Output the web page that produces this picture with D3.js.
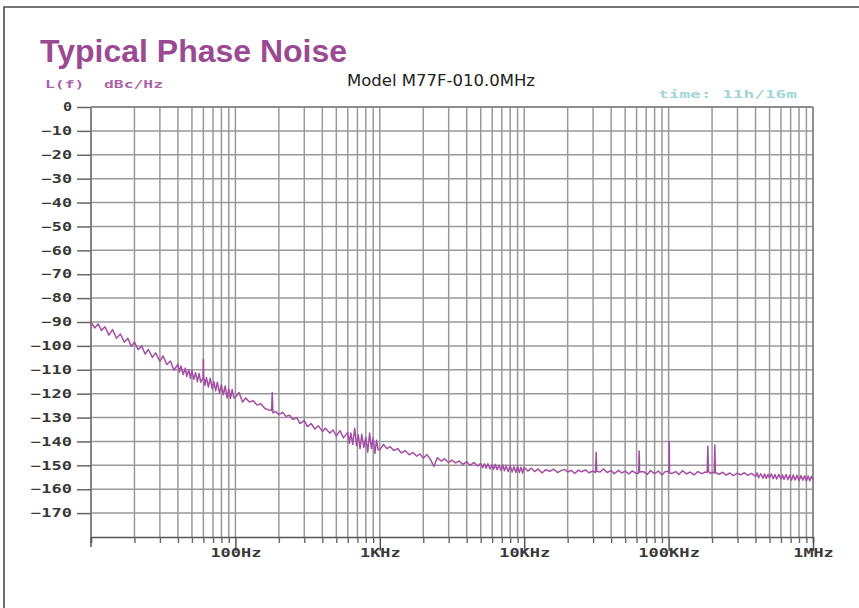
<!DOCTYPE html>
<html>
<head>
<meta charset="utf-8">
<script src="https://cdn.jsdelivr.net/npm/d3@7"></script>
<style>
body{margin:0;background:#fff;}
svg{display:block;}
.plotFont{font-family:"DejaVu Sans Mono",monospace;font-weight:bold;}
</style>
</head>
<body>
<svg id="chart" width="859" height="608"></svg>
<script>
// phase noise readings, [offset Hz, dBc/Hz], one array per decade
var decade10Hz=[[10,-90],[10.6,-92.5],[11.2,-90.8],[11.8,-93.5],[12.5,-92],[13.3,-95.5],[14.1,-93.2],[15,-96.8],[16,-95],[17,-98.5],
	[18,-96.8],[19,-100.2],[20,-98.4],[21.2,-101.6],[22.4,-100],[23.7,-103.4],[25,-101.5],[26.6,-104.8],[28,-102.9],[30,-106.5],
	[31.5,-104.2],[33.5,-107.8],[35.5,-106.3],[37.5,-110.2],[40,-107.6],[41,-111],[42,-108.4],[43.5,-112],[45,-109.3],[46,-112.8],
	[47.5,-110],[48.8,-113.6],[50,-110.2],[51.5,-114],[53,-111.2],[54.5,-115],[56,-111.5],[57.5,-115.2],[59.7,-113.5],[60,-105.5],
	[60.3,-113],[61.5,-116.5],[63,-113.2],[65,-117.2],[67,-113.5],[69,-118],[71,-115],[73,-118.8],[75,-115.2],[77.5,-119.8],
	[80,-116.2],[82.5,-120.5],[85,-116.8],[87.5,-121.8],[90,-118],[92.5,-122],[95,-118.2],[97.5,-121.8]];
var decade100Hz=[[100,-121.5],[106,-119.5],[112,-123.5],[118,-121.8],[125,-123.5],[133,-123],[141,-124.8],[150,-124.2],[160,-126.2],[170,-126.8],
	[178,-127],[180,-119.5],[182,-128],[190,-127.5],[200,-128.8],[212,-127.8],[224,-129.5],[237,-129],[250,-130.8],[266,-130],
	[280,-132.5],[300,-131.2],[315,-133.8],[335,-132.5],[355,-134.8],[375,-133.4],[400,-135.8],[420,-134.5],[450,-136.5],[475,-135.2],
	[500,-137.8],[530,-135.5],[560,-138.5],[600,-136.2],[615,-140.8],[630,-136.5],[650,-141.2],[670,-134.5],[690,-141.8],[710,-137.2],
	[730,-143],[750,-137],[775,-142.5],[800,-138.2],[825,-144.5],[850,-136.5],[875,-143],[900,-138.5],[925,-145],[950,-139.5],[975,-143.5]];
var decade1kHz=[[1000,-143.5],[1060,-141.2],[1120,-143],[1180,-142.2],[1250,-143.8],[1330,-143],[1410,-144.8],[1500,-143.9],[1600,-145.6],[1700,-144.6],
	[1800,-146.2],[1900,-145.2],[2000,-147],[2120,-145.5],[2240,-147.5],[2370,-150.5],[2500,-146.8],[2660,-148.2],[2800,-147.3],[3000,-148.8],
	[3150,-147.8],[3350,-149],[3550,-148.2],[3750,-149.6],[4000,-148.5],[4200,-150],[4500,-148.8],[4750,-150.3],[5000,-149.2],[5150,-151],
	[5300,-149.4],[5450,-151.2],[5600,-149.3],[5800,-151.5],[6000,-149.8],[6150,-151.7],[6300,-149.6],[6500,-151.8],[6700,-150],[6900,-152.2],
	[7100,-149.8],[7300,-152.3],[7500,-150.3],[7750,-152.6],[8000,-150.2],[8250,-152.8],[8500,-150.6],[8750,-153],[9000,-150.4],[9250,-153],
	[9500,-150.8],[9750,-153.2]];
var decade10kHz=[[10000,-150.8],[10600,-152.4],[11200,-151.2],[11800,-152.6],[12500,-151.5],[13300,-153.2],[14100,-151.8],[15000,-152.5],[16000,-151.6],[17000,-153],
	[18000,-152.2],[19000,-151.7],[20000,-152.8],[21200,-152.1],[22400,-153.4],[23700,-152],[25000,-152.7],[26600,-151.9],[28000,-153.1],[30000,-152.4],
	[31200,-153],[31500,-144.5],[31800,-152.5],[33500,-152.8],[35500,-151.5],[37500,-153],[40000,-152.2],[42000,-153.5],[45000,-152.1],[47500,-153.2],
	[50000,-152.4],[53000,-153.6],[56000,-152.3],[60000,-153.5],[62000,-153.2],[62500,-144],[63000,-152.8],[67000,-152.6],[71000,-153.8],[75000,-152.2],
	[80000,-153.5],[85000,-152.4],[90000,-154],[95000,-152.6]];
var decade100kHz=[[100000,-152.5],[100500,-153],[101000,-140],[101500,-153.2],[106000,-153.4],[112000,-152.6],[118000,-153.8],[125000,-152.2],[133000,-153.6],[141000,-152.8],
	[150000,-154],[160000,-152.6],[170000,-153.5],[180000,-152.8],[185000,-153],[187000,-142],[189000,-152.5],[195000,-153.4],[200000,-152.9],[207000,-153.2],
	[209000,-141.5],[211000,-153],[224000,-153.8],[237000,-152.9],[250000,-154.1],[266000,-153.2],[280000,-154.3],[300000,-153.3],[315000,-154],[335000,-153.1],
	[355000,-154.2],[375000,-153.4],[400000,-154.6],[410000,-153.2],[420000,-155.2],[435000,-153.5],[450000,-155.4],[462000,-153.6],[475000,-155.5],[488000,-153.7],
	[500000,-155.3],[515000,-153.6],[530000,-155.6],[545000,-153.8],[560000,-155.7],[580000,-153.9],[600000,-155.8],[615000,-154],[630000,-155.9],[650000,-153.8],
	[670000,-156],[690000,-154.1],[710000,-156.2],[730000,-154],[750000,-156.1],[775000,-154.2],[800000,-156.4],[825000,-154.3],[850000,-156.2],[875000,-154.4],
	[900000,-156.6],[925000,-154.5],[950000,-156.5],[975000,-154.6],[1000000,-156]];

var yTickValues=[0,-10,-20,-30,-40,-50,-60,-70,-80,-90,-100,-110,-120,-130,-140,-150,-160,-170];
var xLabelValues=[100,1000,10000,100000,1000000];
var xLabelText=["100Hz","1KHz","10KHz","100KHz","1MHz"];
var decadeStarts=[10,100,1000,10000,100000];

var TITLE="Typical Phase Noise";
var MODEL="Model M77F-010.0MHz";
var YUNIT="L(f)  dBc/Hz";
var TIMESTAMP="time: 11h/16m";

var LEFTMARGIN=91;
var RIGHTEDGE=813;
var TOPMARGIN=107;
var AXISY=537;
var CHARWIDTH=10.6;
var GRIDCOLOR="#999";
var INKCOLOR="#383838";
var TRACECOLOR="#a44fa4";

var svg=d3.select("#chart");
var x=d3.scaleLog().domain([10,1e6]).range([LEFTMARGIN,RIGHTEDGE]);
var y=d3.scaleLinear().domain([0,-180]).range([TOPMARGIN,AXISY]);

drawFrame();
drawGrid();
drawYAxis();
drawXAxis();
drawTexts();
drawTrace();

//outer border, only top and left show in the picture
function drawFrame(){
	svg.append("path")
		.attr("d","M4,608 L4,7 L859,7")
		.attr("fill","none")
		.attr("stroke","#4a4a4a")
		.attr("stroke-width",1.6);
}

//grid: one vertical line per 1..9 of every decade
function drawGrid(){
	var gridFreqs=[];
	decadeStarts.forEach(function(d){
		for(var k=1;k<10;k++){gridFreqs.push(d*k);}
	});
	gridFreqs.push(1e6);
	svg.append("g").attr("class","vGrid")
		.selectAll("line").data(gridFreqs).enter().append("line")
		.attr("x1",function(d){return x(d);})
		.attr("x2",function(d){return x(d);})
		.attr("y1",y(0))
		.attr("y2",y(-180))
		.attr("stroke",GRIDCOLOR)
		.attr("stroke-width",1.5);
	svg.append("g").attr("class","hGrid")
		.selectAll("line").data(yTickValues).enter().append("line")
		.attr("x1",LEFTMARGIN)
		.attr("x2",RIGHTEDGE)
		.attr("y1",function(d){return y(d);})
		.attr("y2",function(d){return y(d);})
		.attr("stroke",GRIDCOLOR)
		.attr("stroke-width",1.5);
	//left edge, right edge and 0 line a bit darker
	svg.append("line")
		.attr("x1",LEFTMARGIN).attr("x2",LEFTMARGIN)
		.attr("y1",y(0)).attr("y2",y(-180))
		.attr("stroke","#777").attr("stroke-width",1.5);
	svg.append("line")
		.attr("x1",RIGHTEDGE).attr("x2",RIGHTEDGE)
		.attr("y1",y(0)).attr("y2",y(-180))
		.attr("stroke","#808080").attr("stroke-width",1.5);
	svg.append("line")
		.attr("x1",LEFTMARGIN).attr("x2",RIGHTEDGE)
		.attr("y1",y(0)).attr("y2",y(0))
		.attr("stroke","#808080").attr("stroke-width",1.5);
}

function drawYAxis(){
	var g=svg.append("g")
		.attr("transform","translate("+LEFTMARGIN+",0)")
		.call(d3.axisLeft(y).tickValues(yTickValues).tickSize(14).tickPadding(5).tickSizeOuter(0));
	g.select(".domain").remove();
	g.selectAll(".tick line").attr("stroke","#666").attr("stroke-width",1.5);
	g.selectAll(".tick text")
		.attr("class","plotFont")
		.attr("fill",INKCOLOR)
		.style("font-size","11.5px")
		.attr("textLength",function(d){return String(d).length*CHARWIDTH-1.5;})
		.attr("lengthAdjust","spacingAndGlyphs");
}

function drawXAxis(){
	var minor=[];
	decadeStarts.forEach(function(d){
		for(var k=2;k<10;k++){minor.push(d*k);}
	});
	var gMinor=svg.append("g")
		.attr("transform","translate(0,"+AXISY+")")
		.call(d3.axisBottom(x).tickValues(minor).tickSize(6).tickFormat(""));
	gMinor.select(".domain").attr("stroke","#555").attr("stroke-width",1.6);
	gMinor.selectAll(".tick line").attr("stroke","#666").attr("stroke-width",1.4);

	//left end tick, 10Hz
	svg.append("line")
		.attr("x1",x(10)).attr("x2",x(10))
		.attr("y1",AXISY).attr("y2",AXISY+10)
		.attr("stroke","#555").attr("stroke-width",1.5);

	var gMajor=svg.append("g")
		.attr("transform","translate(0,"+AXISY+")")
		.call(d3.axisBottom(x).tickValues(xLabelValues).tickSize(14).tickPadding(4)
			.tickFormat(function(d,i){return xLabelText[i];}));
	gMajor.select(".domain").remove();
	gMajor.selectAll(".tick line").attr("stroke","#555").attr("stroke-width",1.5);
	gMajor.selectAll(".tick text")
		.attr("class","plotFont")
		.attr("fill",INKCOLOR)
		.attr("y",12)
		.attr("dy","0.71em")
		.style("font-size","11.5px")
		.attr("textLength",function(d,i){return xLabelText[i].length*CHARWIDTH-2;})
		.attr("lengthAdjust","spacingAndGlyphs");
}

function drawTexts(){
	svg.append("text")
		.text(TITLE)
		.attr("x",40)
		.attr("y",62)
		.attr("fill","#9b4a92")
		.style("font-family","'Liberation Sans',Arial,sans-serif")
		.style("font-weight","bold")
		.style("font-size","32px");
	svg.append("text")
		.text(MODEL)
		.attr("x",347)
		.attr("y",86)
		.attr("fill","#222")
		.attr("textLength",188)
		.attr("lengthAdjust","spacingAndGlyphs")
		.style("font-family","'DejaVu Sans',sans-serif")
		.style("font-size","15.5px");
	svg.append("text")
		.text(YUNIT)
		.attr("class","plotFont")
		.attr("x",45)
		.attr("y",88)
		.attr("fill","#aa64aa")
		.attr("textLength",118)
		.attr("lengthAdjust","spacingAndGlyphs")
		.style("white-space","pre")
		.style("font-size","10.5px");
	svg.append("text")
		.text(TIMESTAMP)
		.attr("class","plotFont")
		.attr("x",658)
		.attr("y",98)
		.attr("fill","#9fd6d6")
		.attr("textLength",139)
		.attr("lengthAdjust","spacingAndGlyphs")
		.style("font-size","10.5px");
}

function drawTrace(){
	var data=decade10Hz.concat(decade100Hz,decade1kHz,decade10kHz,decade100kHz);
	var line=d3.line()
		.x(function(d){return x(d[0]);})
		.y(function(d){return y(d[1]);});
	svg.append("path")
		.datum(data)
		.attr("d",line)
		.attr("fill","none")
		.attr("stroke",TRACECOLOR)
		.attr("stroke-width",1.5)
		.attr("stroke-linejoin","round");
}
</script>
</body>
</html>
